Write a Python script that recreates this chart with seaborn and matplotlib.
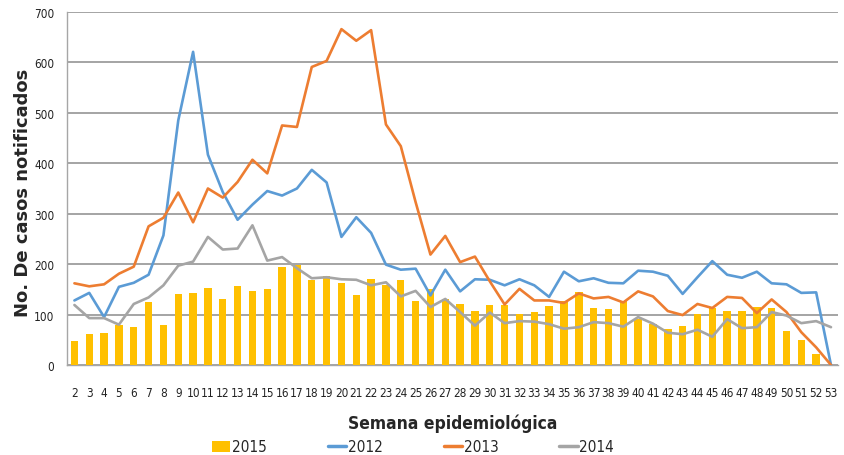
import numpy as np
import pandas as pd
import matplotlib
matplotlib.use("Agg")
import matplotlib.pyplot as plt
import seaborn as sns
from matplotlib.lines import Line2D
from matplotlib.patches import Patch
from matplotlib import font_manager as fm

weeks = list(range(2, 54))
c2015 = [48, 62, 64, 79, 75, 125, 79, 141, 143, 153, 131, 156, 147, 151, 195, 199, 169, 177, 163, 138,
         171, 158, 169, 127, 151, 131, 121, 107, 119, 119, 101, 106, 117, 127, 144, 113, 111, 126, 91, 81,
         72, 78, 101, 113, 107, 107, 115, 113, 68, 50, 22, 0]
c2012 = [128, 143, 95, 155, 163, 179, 257, 485, 621, 417, 343, 288, 318, 345, 336, 350, 387, 362, 254, 293,
         262, 199, 189, 191, 138, 189, 146, 170, 169, 158, 170, 158, 135, 185, 166, 172, 163, 162, 187, 185,
         177, 141, 174, 206, 179, 173, 185, 162, 160, 143, 144, 0]
c2013 = [162, 156, 160, 181, 195, 275, 292, 342, 283, 350, 332, 363, 407, 380, 475, 472, 591, 603, 666, 643,
         664, 477, 434, 323, 219, 256, 204, 215, 166, 120, 151, 128, 128, 123, 142, 132, 135, 124, 146, 136,
         107, 99, 121, 113, 135, 133, 103, 130, 105, 65, 35, 0]
c2014 = [119, 93, 93, 80, 121, 134, 158, 197, 205, 254, 229, 231, 277, 207, 214, 192, 172, 174, 170, 169,
         158, 164, 136, 147, 115, 131, 105, 78, 104, 83, 87, 86, 81, 72, 75, 85, 83, 76, 95, 82,
         64, 61, 70, 56, 91, 73, 75, 105, 98, 83, 87, 75]
line_series = {"2012": c2012, "2013": c2013, "2014": c2014}
colors = {"2015": "#FFC000", "2012": "#5B9BD5", "2013": "#ED7D31", "2014": "#A5A5A5"}
yticks = [0, 100, 200, 300, 400, 500, 600, 700]

sns.set_style("white")
names = {f.name for f in fm.fontManager.ttflist}
narrow_name = "Liberation Sans Narrow" if "Liberation Sans Narrow" in names else "DejaVu Sans"
narrow = [narrow_name, "DejaVu Sans"]
plt.rcParams["font.family"] = narrow
plt.rcParams["font.stretch"] = "condensed"

fig = plt.figure(figsize=(8.44, 4.56), dpi=100)
ax = fig.add_axes([67 / 844, 1 - 366 / 456, (838.4 - 67) / 844, (366 - 13) / 456])

df_bar = pd.DataFrame({"week": [str(w) for w in weeks], "casos": c2015})
sns.barplot(data=df_bar, x="week", y="casos", color=colors["2015"], width=0.5,
            saturation=1, linewidth=0, ax=ax)
for p in ax.patches:
    p.set_zorder(3)

pos = np.arange(len(weeks))
long = pd.concat([pd.DataFrame({"pos": pos, "casos": v, "year": k}) for k, v in line_series.items()])
sns.lineplot(data=long, x="pos", y="casos", hue="year", palette=colors, linewidth=1.9,
             ax=ax, legend=False)
for ln in ax.lines:
    ln.set_zorder(4)

ax.set_xlim(-0.5, len(weeks) - 0.5)
ax.set_ylim(0, 700)
ax.set_yticks(yticks)
ax.set_yticklabels([str(t) for t in yticks], fontsize=8.5, color="#222222")
ax.set_xticks(pos)
ax.set_xticklabels([str(w) for w in weeks], fontsize=8.5, color="#222222")
ax.set_xticks(np.arange(-0.5, len(weeks), 1), minor=True)
ax.tick_params(axis="x", which="major", length=0, pad=15)
ax.tick_params(axis="x", which="minor", length=5, color="#A6A6A6", width=1)
ax.tick_params(axis="y", length=5, color="#A6A6A6", width=1, pad=4)
ax.grid(axis="y", color="#8C8C8C", linewidth=1.1)
ax.set_axisbelow(True)
for s in ["top", "right"]:
    ax.spines[s].set_visible(False)
for s in ["left", "bottom"]:
    ax.spines[s].set_color("#A6A6A6")
    ax.spines[s].set_linewidth(1)

ax.set_xlabel("")
ax.set_ylabel("No. De casos notificados", fontsize=13, fontweight="bold",
              family=["DejaVu Sans"], fontstretch="normal")
ax.yaxis.set_label_coords(-0.045, 0.49)
fig.text(453 / 844, 1 - 424 / 456, "Semana epidemiológica", fontsize=12.5, fontweight="bold",
         ha="center", va="center", family=narrow)

handles = [Patch(facecolor=colors["2015"], edgecolor="none")] + \
          [Line2D([0], [0], color=colors[k], linewidth=2.5) for k in line_series]
labels = ["2015"] + list(line_series.keys())
fig.legend(handles, labels, loc="center", bbox_to_anchor=(413 / 844, 1 - 448 / 456), ncol=4,
           frameon=False, fontsize=11, handlelength=1.2, handletextpad=0.1, columnspacing=4.0,
           borderaxespad=0)

fig.savefig("out.png", dpi=100)
